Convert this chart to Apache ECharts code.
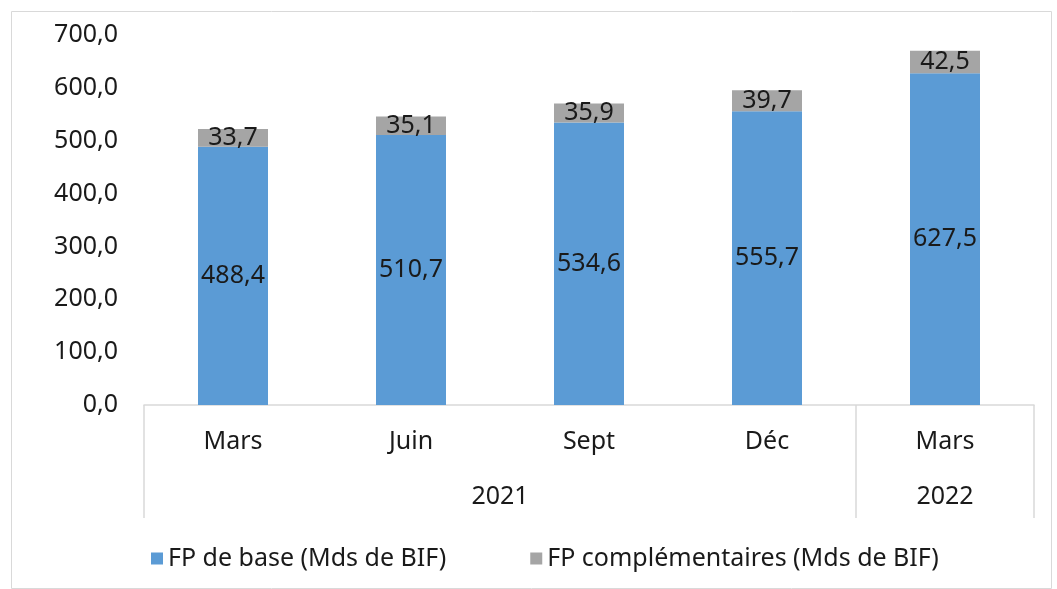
<!DOCTYPE html>
<html>
<head>
<meta charset="utf-8">
<script src="https://cdn.jsdelivr.net/npm/echarts@6/dist/echarts.min.js"></script>
<style>
html, body { margin: 0; padding: 0; background: #fff; }
#chart { width: 1057px; height: 589px; }
</style>
</head>
<body>
<div id="chart"></div>
<script>
// données
var months = ['Mars', 'Juin', 'Sept', 'Déc', 'Mars'];
var years = ['2021', '2022'];
var yearPos = [2, 4.5];        // milieu de chaque groupe d'années (en nb de catégories)
var yearBounds = [0, 4, 5];    // séparateurs des groupes
var fpBase = [488.4, 510.7, 534.6, 555.7, 627.5];
var fpCompl = [33.7, 35.1, 35.9, 39.7, 42.5];
var yTicks = [0, 100, 200, 300, 400, 500, 600, 700];

var fontFamily = '"Noto Sans", "Open Sans", sans-serif';
var textColor = '#1a1a1a';
var fs = 25;

function fmt(v) {
    return Number(v).toFixed(1).replace('.', ',');
}

var option = {
    animation: false,
    textStyle: { fontFamily: fontFamily },
    graphic: [{
        type: 'rect',
        shape: { x: 11.5, y: 11.5, width: 1040, height: 577 },
        style: { fill: 'none', stroke: '#d9d9d9', lineWidth: 1 },
        silent: true
    }],
    grid: {
        left: 144,
        right: 23,
        top: 35,
        bottom: 184
    },
    legend: {
        left: 146,
        top: 541,
        itemWidth: 12,
        itemHeight: 12,
        itemGap: 84,
        icon: 'rect',
        textStyle: {
            color: textColor,
            fontSize: fs,
            fontFamily: fontFamily
        },
        data: ['FP de base (Mds de BIF)', 'FP complémentaires (Mds de BIF)']
    },
    xAxis: [
        {
            type: 'category',
            data: months,
            axisLine: { lineStyle: { color: '#d9d9d9', width: 1.5 } },
            axisTick: { show: false },
            axisLabel: {
                margin: 24,
                color: textColor,
                fontSize: fs,
                fontFamily: fontFamily
            }
        },
        {
            type: 'value',
            position: 'bottom',
            min: 0,
            max: 5,
            axisLine: { show: false },
            splitLine: { show: false },
            axisTick: {
                show: true,
                customValues: yearBounds,
                length: 113,
                lineStyle: { color: '#d9d9d9', width: 1.5 }
            },
            axisLabel: {
                customValues: yearPos,
                margin: 79,
                color: textColor,
                fontSize: fs,
                fontFamily: fontFamily,
                formatter: function (v) {
                    return years[yearPos.indexOf(v)];
                }
            }
        }
    ],
    yAxis: {
        type: 'value',
        min: yTicks[0],
        max: yTicks[yTicks.length - 1],
        interval: 100,
        axisLine: { show: false },
        axisTick: { show: false },
        splitLine: { show: false },
        axisLabel: {
            margin: 26,
            color: textColor,
            fontSize: fs,
            fontFamily: fontFamily,
            formatter: fmt
        }
    },
    series: [
        {
            name: 'FP de base (Mds de BIF)',
            type: 'bar',
            stack: 'fp',
            barWidth: 70,
            itemStyle: { color: '#5b9bd5' },
            label: {
                show: true,
                position: 'inside',
                color: textColor,
                fontSize: fs,
                fontFamily: fontFamily,
                formatter: function (p) { return fmt(p.value); }
            },
            data: fpBase
        },
        {
            name: 'FP complémentaires (Mds de BIF)',
            type: 'bar',
            stack: 'fp',
            barWidth: 70,
            itemStyle: { color: '#a5a5a5' },
            label: {
                show: true,
                position: 'inside',
                color: textColor,
                fontSize: fs,
                fontFamily: fontFamily,
                formatter: function (p) { return fmt(p.value); }
            },
            data: fpCompl
        }
    ]
};

var chart = echarts.init(document.getElementById('chart'));
chart.setOption(option);
</script>
</body>
</html>
